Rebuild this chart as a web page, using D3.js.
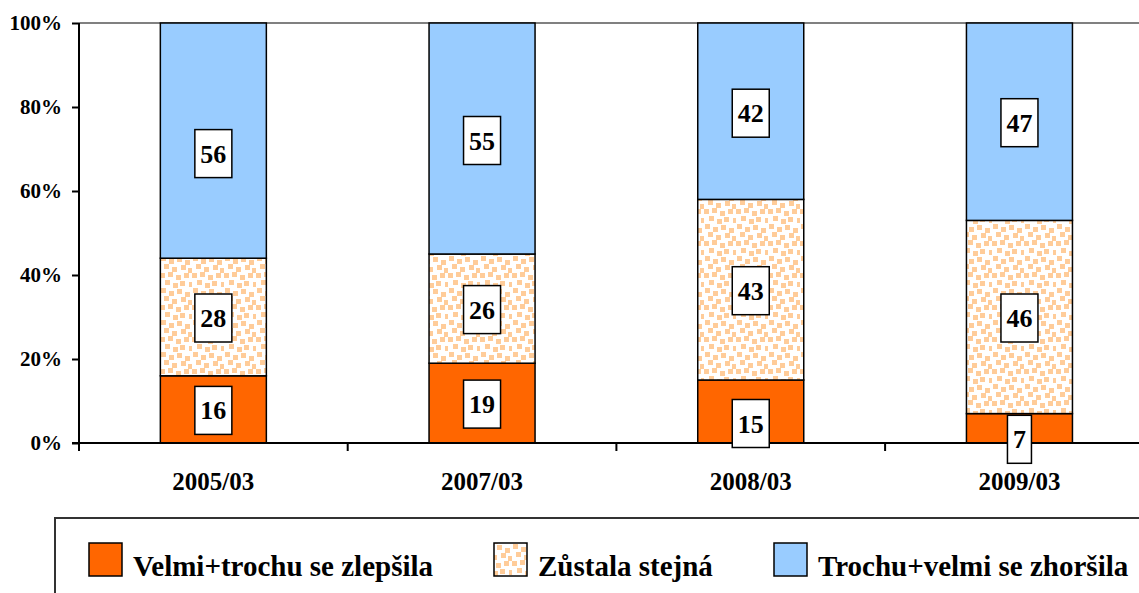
<!DOCTYPE html>
<html>
<head>
<meta charset="utf-8">
<script src="https://cdnjs.cloudflare.com/ajax/libs/d3/7.8.5/d3.min.js"></script>
<style>
  body { margin: 0; background: #fff; }
  svg { display: block; font-family: "Liberation Serif", "Times New Roman", serif; font-weight: bold; }
</style>
</head>
<body>
<div id="chart"></div>
<script>
var categories = ["2005/03", "2007/03", "2008/03", "2009/03"]
var improved = [16, 19, 15, 7]
var same = [28, 26, 43, 46]
var worse = [56, 55, 42, 47]
var seriesNames = ["Velmi+trochu se zlepšila", "Zůstala stejná", "Trochu+velmi se zhoršila"]
var yTicks = [0, 20, 40, 60, 80, 100]

// label boxes that Excel had nudged off centre (px, down)
var labelShift = [[1, 1, 13], [1, 1, 2], [12, 1, 2], [11, 1, 1]]

var width = 1139, height = 593
var svg = d3.select('#chart').append('svg').attr('width', width).attr('height', height)

// small confetti pattern
var defs = svg.append('defs')
var pat = defs.append('pattern').attr('id', 'confetti')
    .attr('patternUnits', 'userSpaceOnUse').attr('width', 32).attr('height', 32)
pat.append('rect').attr('width', 32).attr('height', 32).attr('fill', '#fff')
var dots = [[1,0],[9,3],[17,1],[25,4],[4,8],[12,11],[21,9],[28,12],
            [0,17],[8,16],[16,19],[24,17],[5,24],[13,27],[20,25],[29,26]]
dots.forEach(d => pat.append('rect').attr('x', d[0]).attr('y', d[1]).attr('width', 5).attr('height', 5).attr('fill', '#FFCC99'))

var fills = ['#FF6600', 'url(#confetti)', '#99CCFF']

var x = d3.scaleBand().domain(categories).range([79, 79 + 4 * 268.7])
    .paddingInner(0.6055).paddingOuter(0.30275)
var y = d3.scaleLinear().domain([0, 100]).range([443, 23])

// top line
svg.append('line').attr('x1', 79).attr('x2', width).attr('y1', y(100)).attr('y2', y(100))
    .attr('stroke', '#808080').attr('stroke-width', 2)

var rows = categories.map((c, i) => ({cat: c, v: [improved[i], same[i], worse[i]]}))
var stack = d3.stack().keys([0, 1, 2]).value((d, k) => d.v[k])(rows)

stack.forEach((layer, k) => {
    svg.append('g').selectAll('rect').data(layer).enter().append('rect')
        .attr('x', d => x(d.data.cat))
        .attr('width', x.bandwidth())
        .attr('y', d => y(d[1]))
        .attr('height', d => y(d[0]) - y(d[1]))
        .attr('fill', fills[k])
        .attr('stroke', '#000').attr('stroke-width', 1.5)
})

// axes
var yAxis = svg.append('g').attr('transform', 'translate(79,0)')
    .call(d3.axisLeft(y).tickValues(yTicks).tickFormat(d => d + '%').tickSize(7).tickPadding(10))
yAxis.attr('font-family', null).attr('font-size', null)
yAxis.select('.domain').remove()
yAxis.selectAll('line').attr('stroke', '#000').attr('stroke-width', 2)
yAxis.selectAll('text').attr('font-size', 21).attr('fill', '#000')
svg.append('line').attr('x1', 79).attr('x2', 79).attr('y1', 23).attr('y2', 451).attr('stroke', '#000').attr('stroke-width', 2)
svg.append('line').attr('x1', 72).attr('x2', width).attr('y1', 443).attr('y2', 443).attr('stroke', '#000').attr('stroke-width', 2)

var bounds = categories.map(c => x(c) - x.step() * x.paddingOuter())
svg.append('g').selectAll('line').data(bounds).enter().append('line')
    .attr('x1', d => d).attr('x2', d => d).attr('y1', 443).attr('y2', 451)
    .attr('stroke', '#000').attr('stroke-width', 2)

svg.append('g').selectAll('text').data(categories).enter().append('text')
    .attr('x', d => x(d) + x.bandwidth() / 2).attr('y', 490)
    .attr('text-anchor', 'middle').attr('font-size', 25).text(d => d)

// data labels
stack.forEach((layer, k) => {
    layer.forEach((d, i) => {
        var cx = x(d.data.cat) + x.bandwidth() / 2
        var cy = (y(d[0]) + y(d[1])) / 2 + labelShift[i][k]
        var g = svg.append('g')
        var t = g.append('text').attr('x', cx).attr('y', cy + 9)
            .attr('text-anchor', 'middle').attr('font-size', 26).text(d.data.v[k])
        var w = t.node().getComputedTextLength() + 11
        g.insert('rect', 'text').attr('x', cx - w / 2).attr('y', cy - 24).attr('width', w).attr('height', 48)
            .attr('fill', '#fff').attr('stroke', '#000').attr('stroke-width', 1.5)
    })
})

// legend
svg.append('rect').attr('x', 55).attr('y', 518).attr('width', width).attr('height', 200)
    .attr('fill', 'none').attr('stroke', '#333').attr('stroke-width', 2)
var legX = [89, 494, 774]
seriesNames.forEach((n, k) => {
    svg.append('rect').attr('x', legX[k]).attr('y', 543).attr('width', 33).attr('height', 33)
        .attr('fill', fills[k]).attr('stroke', '#000').attr('stroke-width', 1.5)
    svg.append('text').attr('x', legX[k] + 44).attr('y', 576).attr('font-size', 29).text(n)
})
</script>
</body>
</html>
